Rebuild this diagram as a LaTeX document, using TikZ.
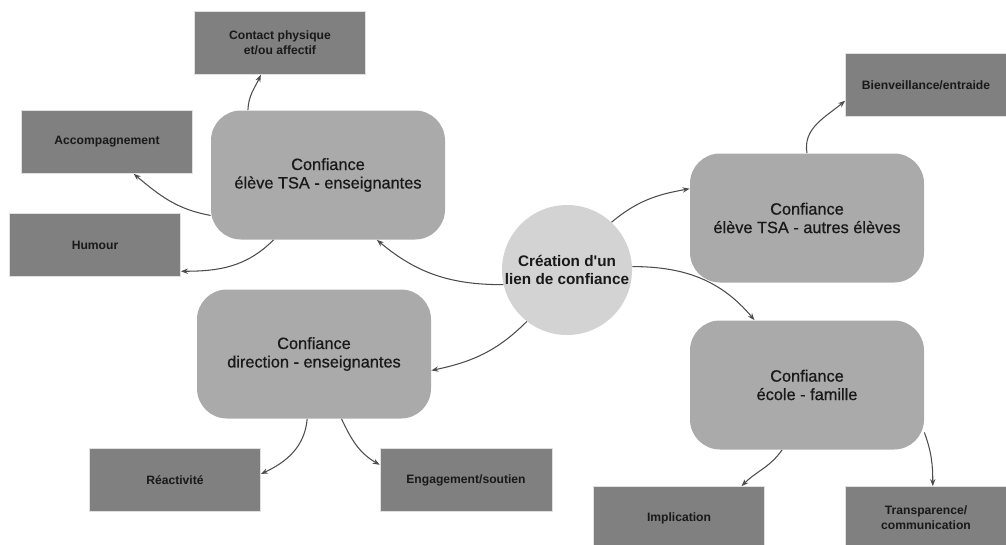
\documentclass[tikz,border=0pt]{standalone}
\usepackage{fontspec}
\setmainfont{Liberation Sans}
\newfontfamily\moyenne{Liberation Sans}[FakeBold=0.7]
\usepackage{tikz}
\usetikzlibrary{positioning, arrows.meta}

\definecolor{petitgris}{HTML}{808080}
\definecolor{moyengris}{HTML}{AAAAAA}
\definecolor{clairgris}{HTML}{D3D3D3}

\tikzset{
    theme/.style={rectangle, rounded corners=0.6cm, fill=moyengris, minimum width=4.68cm, minimum height=2.58cm, inner sep=0pt, align=center, text=black!90, font=\moyenne\fontsize{9.3}{10.5}\selectfont},
    detail/.style={rectangle, fill=petitgris, draw=black!12, line width=0.4pt, minimum width=3.42cm, minimum height=1.26cm, inner sep=0pt, align=center, text=black!90, font=\fontsize{6.9}{8.5}\selectfont\bfseries},
    lien/.style={-{Stealth[length=4pt, width=3pt]}, line width=0.6pt, black!70}
}

\begin{document}
\begin{tikzpicture}
    \useasboundingbox (0,0) rectangle (20.12,-10.88);

    % Central idea
    \node[circle, fill=clairgris, minimum size=2.6cm, inner sep=0pt, align=center, text=black!90, font=\fontsize{8.7}{10.2}\selectfont\bfseries] (creation) at (11.34,-5.40) {Création d\textquotesingle un\\lien de confiance};

    % The four themes
    \node[theme] (eleveens) at (6.56,-3.50) {Confiance\\élève TSA - enseignantes};
    \node[theme] (direction) at (6.28,-7.08) {Confiance\\direction - enseignantes};
    \node[theme] (eleveautres) at (16.14,-4.36) {Confiance\\élève TSA - autres élèves};
    \node[theme] (ecole) at (16.14,-7.70) {Confiance\\école - famille};

    % Details
    \node[detail] (contact) at (5.60,-0.86) {Contact physique\\et/ou affectif};
    \node[detail] (accomp) at (2.14,-2.84) {Accompagnement};
    \node[detail] (humour) at (1.90,-4.90) {Humour};
    \node[detail] (reactivite) at (3.50,-9.60) {Réactivité};
    \node[detail, minimum width=3.44cm] (engagement) at (9.32,-9.60) {Engagement/soutien};
    \node[detail, minimum width=3.22cm] (bienveillance) at (18.52,-1.70) {Bienveillance/entraide};
    \node[detail] (implication) at (13.58,-10.36) {Implication};
    \node[detail, minimum width=3.22cm] (transparence) at (18.52,-10.36) {Transparence/\\communication};

    % From the centre to the themes
    \draw[lien] (creation.193) to[out=180, in=-40] (eleveens.-53);
    \draw[lien] (creation.232) to[out=225, in=12] (direction.-8);
    \draw[lien] (creation.47) to[out=40, in=190] (eleveautres.166);
    \draw[lien] (creation.3) to[out=0, in=130] (ecole.129);

    % From the themes to the details
    \draw[lien] (eleveens.141) to[out=88, in=245] (contact.239);
    \draw[lien] (eleveens.199) to[out=170, in=-40] (accomp.310);
    \draw[lien] (eleveens.230) to[out=225, in=0] (humour.343);
    \draw[lien] (direction.264) to[out=265, in=25] (reactivite.4.6);
    \draw[lien] (direction.293) to[out=-65, in=150] (engagement.170);
    \draw[lien] (eleveautres.north) to[out=100, in=220] (bienveillance.191);
    \draw[lien] (ecole.249) to[out=235, in=45] (implication.27);
    \draw[lien] (ecole.338) to[out=-70, in=90] (transparence.78);
\end{tikzpicture}
\end{document}
